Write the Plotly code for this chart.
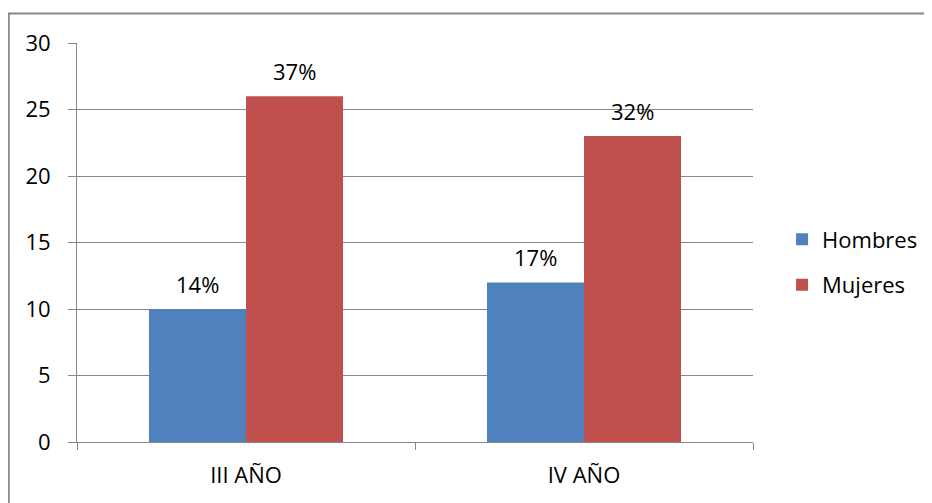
import plotly.graph_objects as go

categories = ["III AÑO", "IV AÑO"]
hombres = [10, 12]
mujeres = [26, 23]
hombres_labels = ["14%", "17%"]
mujeres_labels = ["37%", "32%"]
y_ticks = [0, 5, 10, 15, 20, 25, 30]

BLUE = "#4F81BD"
RED = "#C0504D"
GRAY = "#878787"
FONT = dict(family="Open Sans, DejaVu Sans, sans-serif", size=22, color="#000000")

fig = go.Figure()
fig.add_trace(go.Bar(name="Hombres", x=categories, y=hombres, marker_color=BLUE,
                     marker_line_width=0, legendgroup="h"))
fig.add_trace(go.Bar(name="Mujeres", x=categories, y=mujeres, marker_color=RED,
                     marker_line_width=0, legendgroup="m"))

# data labels above bars (offset by group position)
for trace_idx, (vals, labs) in enumerate([(hombres, hombres_labels), (mujeres, mujeres_labels)]):
    for i, (v, t) in enumerate(zip(vals, labs)):
        fig.add_annotation(x=i + (-0.143 if trace_idx == 0 else 0.143), xref="x", y=v, yref="y",
                           text=t, showarrow=False, yanchor="middle", yshift=25, font=FONT)

fig.update_layout(
    width=932, height=503,
    margin=dict(l=69, r=187, t=35, b=69),
    paper_bgcolor="white", plot_bgcolor="white",
    barmode="group", bargap=0.426, bargroupgap=0,
    font=FONT,
    showlegend=True,
    legend=dict(x=1.043, xanchor="left", y=0.45, yanchor="middle",
                font=FONT, tracegroupgap=14, bgcolor="rgba(0,0,0,0)"),
    xaxis=dict(type="category", tickson="boundaries", ticks="outside", ticklen=7,
               tickcolor=GRAY, showline=True, linecolor=GRAY, linewidth=1,
               showgrid=False, ticklabelstandoff=14, range=[-0.5, 1.5]),
    yaxis=dict(range=[0, 30], tickvals=y_ticks, ticks="outside", ticklen=8,
               tickcolor=GRAY, showline=True, linecolor=GRAY, linewidth=1,
               showgrid=True, gridcolor=GRAY, gridwidth=1, zeroline=False,
               ticklabelstandoff=13),
    shapes=[dict(type="rect", xref="paper", yref="paper",
                 x0=-0.101, x1=1.3, y0=-0.5, y1=1.074,
                 line=dict(color=GRAY, width=2), fillcolor="rgba(0,0,0,0)", layer="below")],
)

fig.write_html("out.html")
